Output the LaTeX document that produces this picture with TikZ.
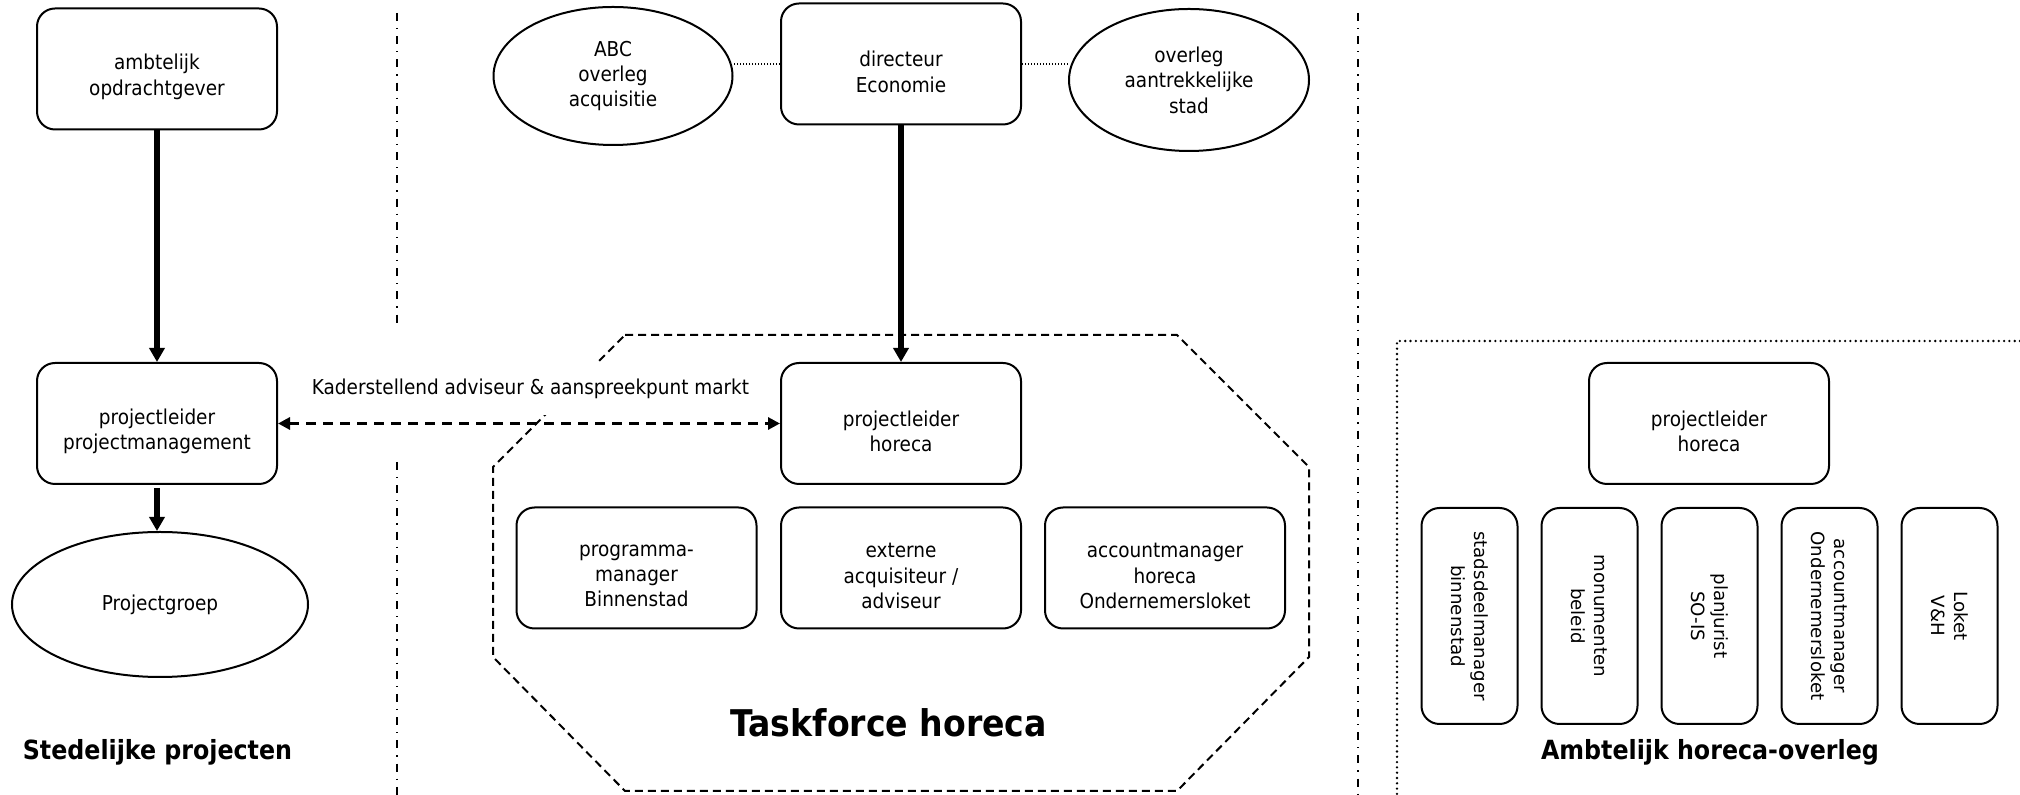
\documentclass[tikz,border=0pt]{standalone}
\usepackage{fontspec}
\setmainfont{DejaVu Sans Condensed}
\newfontfamily\widefont{DejaVu Sans}
\usetikzlibrary{arrows.meta,shapes.geometric}
\begin{document}
\begin{tikzpicture}[x=0.5pt,y=-0.5pt,
 every node/.style={font=\fontsize{10.25pt}{12.7pt}\selectfont},
 box/.style={draw,line width=1pt,rounded corners=9pt,minimum width=120pt,minimum height=60.5pt,inner sep=0pt},
 vbox/.style={draw,line width=1pt,rounded corners=9pt,minimum width=48pt,minimum height=108pt,inner sep=0pt},
 btxt/.style={align=center,yshift=-4pt,inner sep=0pt},
 vtxt/.style={align=center,rotate=-90,inner sep=0pt,font=\widefont\fontsize{9.1pt}{11.5pt}\selectfont},
 oval/.style={draw,ellipse,line width=1pt,inner sep=0pt,align=center},
 title/.style={font=\fontsize{13.2pt}{16pt}\selectfont\bfseries,inner sep=0pt},
 bigtitle/.style={font=\fontsize{18.4pt}{22pt}\selectfont\bfseries,inner sep=0pt},
 strong/.style={line width=2.75pt,-{Triangle[length=7pt,width=7.5pt]}},
 link/.style={line width=1.5pt,dash pattern=on 5pt off 3.5pt,{Triangle[length=6pt,width=6pt]}-{Triangle[length=6pt,width=6pt]}},
 faint/.style={line width=0.6pt,dash pattern=on 0.6pt off 0.9pt},
 sep/.style={line width=1pt,dash pattern=on 4pt off 3.5pt on 0.6pt off 3.5pt},
 group/.style={line width=1pt,dash pattern=on 4pt off 2.5pt},
 frame/.style={line width=1.3pt,line cap=round,dash pattern=on 0pt off 2.65pt}
]
\useasboundingbox (0,0) rectangle (2020,795);

% separators
\draw[sep] (397,13) -- (397,328);
\draw[sep] (397,462) -- (397,795);
\draw[sep] (1358,13) -- (1358,795);

% right frame
\draw[frame] (2020,341) -- (1397,341) -- (1397,795);

% taskforce octagon
\draw[group] (625,335) -- (1177,335) -- (1309,467) -- (1309,657) -- (1177,791)
  -- (625,791) -- (493,657) -- (493,467) -- cycle;

% left column
\node[box,label={[btxt,name=amb-t]center:ambtelijk\\opdrachtgever}] (amb) at (157,69) {};
\node[box,label={[btxt,name=ppm-t]center:projectleider\\projectmanagement}] (ppm) at (157,423.5) {};
\node[oval,minimum width=148pt,minimum height=72.5pt] (pg) at (160,604.5) {Projectgroep};
\node[title] (stp) at (157.5,752) {Stedelijke projecten};

% middle column
\node[oval,minimum width=119.5pt,minimum height=69pt] (abc) at (613,76) {ABC\\overleg\\acquisitie};
\node[box,label={[btxt,name=dir-t]center:directeur\\Economie}] (dir) at (901,64) {};
\node[oval,minimum width=120pt,minimum height=71pt] (oas) at (1189,80) {overleg\\aantrekkelijke\\stad};
\node[box,label={[btxt,name=plh-t]center:projectleider\\horeca}] (plh) at (901,423.5) {};
\node[box,label={[btxt,name=pmb-t]center:programma-\\manager\\Binnenstad}] (pmb) at (636.5,568) {};
\node[box,label={[btxt,name=eaa-t]center:externe\\acquisiteur /\\adviseur}] (eaa) at (901,568) {};
\node[box,label={[btxt,name=aho-t]center:accountmanager\\horeca\\Ondernemersloket}] (aho) at (1165,568) {};
\node[bigtitle] (tfh) at (888.75,723) {Taskforce horeca};

% label with white background
\node[fill=white,inner xsep=1pt,inner ysep=0pt,minimum height=26pt] (kad) at (530.5,389)
  {Kaderstellend adviseur \& aanspreekpunt markt};

% right column
\node[box,label={[btxt,name=plr-t]center:projectleider\\horeca}] (plr) at (1709,423.5) {};
\node[vbox,label={[vtxt,name=v1-t]center:stadsdeelmanager\\binnenstad}] (v1) at (1469.5,616) {};
\node[vbox,label={[vtxt,name=v2-t]center:monumenten\\beleid}] (v2) at (1589.5,616) {};
\node[vbox,label={[vtxt,name=v3-t]center:planjurist\\SO-IS}] (v3) at (1709.5,616) {};
\node[vbox,label={[vtxt,name=v4-t]center:accountmanager\\Ondernemersloket}] (v4) at (1829.5,616) {};
\node[vbox,label={[vtxt,name=v5-t]center:Loket\\V\&H}] (v5) at (1949.5,616) {};
\node[title] (aho2) at (1710,752) {Ambtelijk horeca-overleg};

% connectors
\draw[strong] (amb.south) -- (ppm.north);
\draw[strong] ([yshift=-1.5pt]ppm.south) -- (ppm.south |- pg.north);
\draw[strong] (dir.south) -- (plh.north);
\draw[link] (ppm.east) -- (plh.west);
\draw[faint] (dir.west) -- (dir.west -| abc.east);
\draw[faint] (dir.east) -- (dir.east -| oas.west);
\end{tikzpicture}
\end{document}
